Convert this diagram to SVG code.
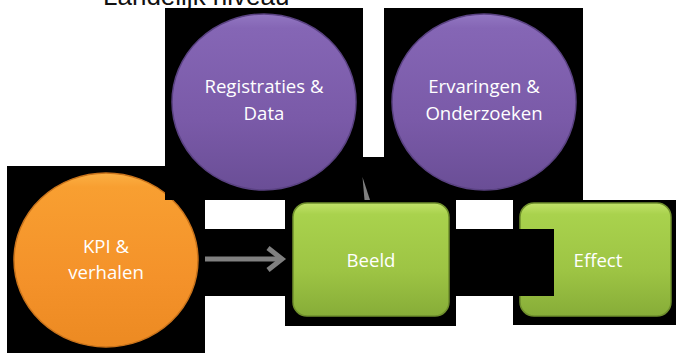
<svg xmlns="http://www.w3.org/2000/svg" width="676" height="353" viewBox="0 0 676 353">
  <defs>
    <linearGradient id="gPurple" x1="0" y1="0" x2="0" y2="1">
      <stop offset="0" stop-color="#9277C2"/>
      <stop offset="0.08" stop-color="#8566B5"/>
      <stop offset="0.6" stop-color="#7A5AA8"/>
      <stop offset="1" stop-color="#6A4E96"/>
    </linearGradient>
    <linearGradient id="gOrange" x1="0" y1="0" x2="0" y2="1">
      <stop offset="0" stop-color="#FBB044"/>
      <stop offset="0.08" stop-color="#F89F31"/>
      <stop offset="0.6" stop-color="#F4922A"/>
      <stop offset="1" stop-color="#EC8A22"/>
    </linearGradient>
    <linearGradient id="gGreen" x1="0" y1="0" x2="0" y2="1">
      <stop offset="0" stop-color="#C2E26A"/>
      <stop offset="0.1" stop-color="#A9D24D"/>
      <stop offset="0.6" stop-color="#9DC444"/>
      <stop offset="1" stop-color="#87AD38"/>
    </linearGradient>
    <style>
      .bg { fill: #000000; }
      .purple { fill: url(#gPurple); stroke: #5A4282; stroke-width: 1.5; }
      .orange { fill: url(#gOrange); stroke: #C9731B; stroke-width: 1.5; }
      .green { fill: url(#gGreen); stroke: #6F8F2C; stroke-width: 1.5; }
      .lbl { font-family: "Open Sans", "Liberation Sans", sans-serif; font-size: 18.6px; fill: #FFFFFF; text-anchor: middle; }
      .title { font-family: "Liberation Sans", Arial, sans-serif; font-size: 26px; fill: #111111; }
      .conn { stroke: #808080; fill: none; stroke-width: 5; stroke-linecap: butt; stroke-linejoin: miter; }
    </style>
  </defs>

  <rect x="0" y="0" width="676" height="353" fill="#FFFFFF"/>

  <g id="title">
    <text class="title" x="57" y="6">–</text>
    <text class="title" x="103" y="5">Landelijk niveau</text>
  </g>

  <g id="node-kpi">
    <rect class="bg" x="7" y="166" width="198" height="187"/>
    <ellipse class="orange" cx="106" cy="260" rx="92" ry="87"/>
    <text class="lbl" x="106" y="253">KPI &amp;</text>
    <text class="lbl" x="106" y="279">verhalen</text>
  </g>

  <g id="node-registraties">
    <rect class="bg" x="165" y="8" width="198" height="192"/>
    <ellipse class="purple" cx="264" cy="102" rx="92" ry="88"/>
    <text class="lbl" x="264" y="93">Registraties &amp;</text>
    <text class="lbl" x="264" y="120">Data</text>
  </g>

  <g id="node-ervaringen">
    <rect class="bg" x="384" y="8" width="199" height="192"/>
    <ellipse class="purple" cx="484" cy="102" rx="92" ry="88"/>
    <text class="lbl" x="484" y="93">Ervaringen &amp;</text>
    <text class="lbl" x="484" y="120">Onderzoeken</text>
  </g>

  <g id="node-beeld">
    <rect class="bg" x="285" y="200" width="171" height="126"/>
    <rect class="green" x="293" y="203" width="156" height="113" rx="14" ry="14"/>
    <text class="lbl" x="371" y="267">Beeld</text>
  </g>

  <g id="node-effect">
    <rect class="bg" x="513" y="200" width="163" height="125"/>
    <rect class="green" x="520" y="203" width="151" height="113" rx="14" ry="14"/>
    <text class="lbl" x="598" y="267">Effect</text>
  </g>

  <g id="connectors">
    <rect class="bg" x="363" y="157" width="21" height="43"/>
    <polygon points="362.5,177 364.5,200 370,200" fill="#808080"/>
    <rect class="bg" x="205" y="229" width="80" height="67"/>
    <line class="conn" x1="205" y1="259" x2="281" y2="259"/>
    <polyline class="conn" points="268,248 282,259 268,270"/>
    <rect class="bg" x="456" y="229" width="98" height="67"/>
  </g>
</svg>
